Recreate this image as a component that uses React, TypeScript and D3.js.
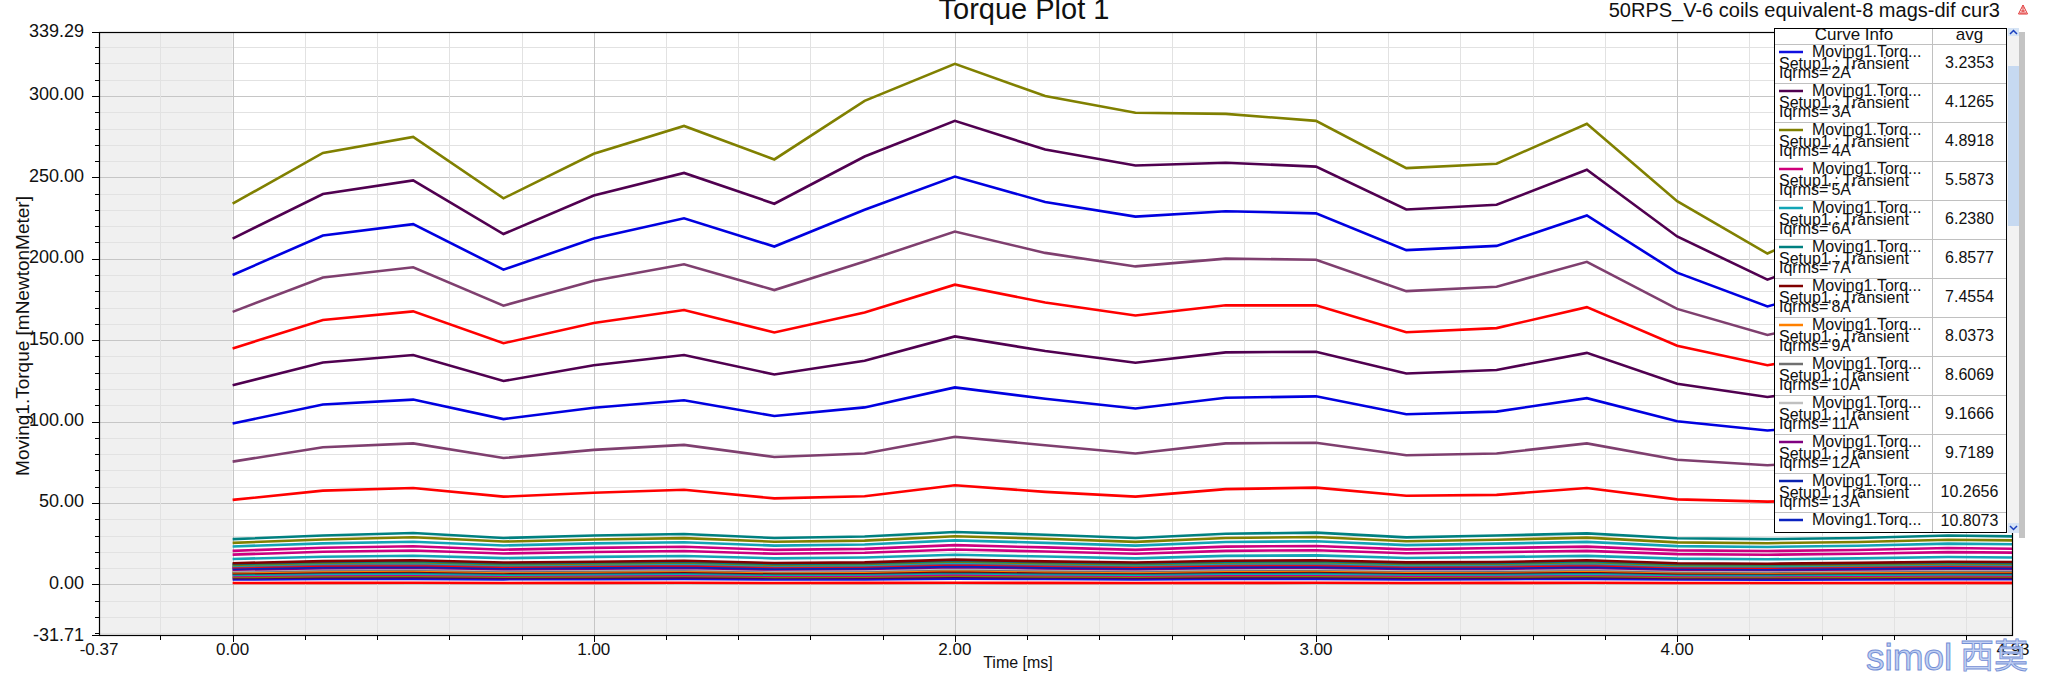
import React from "react";
import * as d3 from "d3";

// ---------- data ----------
const TIME = [0, 0.25, 0.5, 0.75, 1, 1.25, 1.5, 1.75, 2, 2.25, 2.5, 2.75, 3, 3.25, 3.5, 3.75, 4, 4.25, 4.5, 4.75, 4.93];

const X_TICK_LABELS = ["-0.37", "0.00", "1.00", "2.00", "3.00", "4.00", "4.93"];
const X_TICK_VALUES = [-0.37, 0, 1, 2, 3, 4, 4.93];
const Y_TICK_LABELS = ["-31.71", "0.00", "50.00", "100.00", "150.00", "200.00", "250.00", "300.00", "339.29"];
const Y_TICK_VALUES = [-31.71, 0, 50, 100, 150, 200, 250, 300, 339.29];

const CURRENTS = ["2A", "3A", "4A", "5A", "6A", "7A", "8A", "9A", "10A", "11A", "12A", "13A", "14A", "15A", "16A", "17A", "18A", "19A", "20A",
  "25A", "30A", "35A", "40A", "45A", "50A",
  "100A", "150A", "200A", "250A", "300A", "350A", "400A", "450A", "500A", "1A"];

const COLORS = ["#1010e0", "#500050", "#808000", "#d0007a", "#12a5b5", "#008080", "#800000", "#ff8000", "#707070", "#c0c0c0", "#800080", "#0a22b0", "#0a22c0",
  "#ff0000", "#7f3f6f", "#13a3b5", "#808000", "#008080", "#800000",
  "#13a3b5", "#cc0080", "#cc0080", "#13a3b5", "#808000", "#008080",
  "#ff0000", "#7f3f6f", "#0000e0", "#500050", "#ff0000", "#7f3f6f", "#0000e0", "#500050", "#808000", "#ff0000"];

const AVG_LABELS = ["3.2353", "4.1265", "4.8918", "5.5873", "6.2380", "6.8577", "7.4554", "8.0373", "8.6069", "9.1666", "9.7189", "10.2656", "10.8073"];

const S2 = [3.0, 3.3, 3.4, 3.1, 3.2, 3.4, 3.0, 3.1, 3.5, 3.3, 3.1, 3.4, 3.4, 3.1, 3.2, 3.4, 3.0, 2.9, 3.1, 3.2, 3.2];
const S3 = [3.8, 4.3, 4.4, 4.0, 4.1, 4.3, 3.9, 4.0, 4.5, 4.2, 4.0, 4.3, 4.4, 4.0, 4.0, 4.4, 3.8, 3.8, 3.9, 4.1, 4.0];
const S4 = [4.5, 5.0, 5.2, 4.7, 4.9, 5.1, 4.6, 4.7, 5.3, 4.9, 4.7, 5.1, 5.2, 4.7, 4.8, 5.2, 4.5, 4.5, 4.6, 4.9, 4.8];
const S5 = [5.2, 5.8, 5.9, 5.4, 5.6, 5.8, 5.3, 5.4, 6.1, 5.6, 5.4, 5.8, 5.9, 5.4, 5.5, 5.9, 5.2, 5.1, 5.3, 5.6, 5.5];
const S6 = [5.8, 6.4, 6.6, 6.0, 6.2, 6.5, 5.9, 6.1, 6.8, 6.3, 6.0, 6.5, 6.6, 6.1, 6.1, 6.6, 5.8, 5.7, 5.9, 6.2, 6.1];
const S7 = [6.4, 7.1, 7.3, 6.6, 6.9, 7.1, 6.4, 6.7, 7.5, 6.9, 6.6, 7.1, 7.3, 6.7, 6.7, 7.3, 6.4, 6.2, 6.5, 6.9, 6.7];
const S8 = [6.9, 7.7, 7.9, 7.2, 7.5, 7.8, 7.0, 7.2, 8.1, 7.5, 7.2, 7.8, 7.9, 7.2, 7.3, 7.9, 6.9, 6.8, 7.1, 7.5, 7.3];
const S9 = [7.5, 8.3, 8.5, 7.7, 8.0, 8.4, 7.6, 7.8, 8.8, 8.1, 7.7, 8.4, 8.5, 7.8, 7.9, 8.5, 7.5, 7.3, 7.6, 8.0, 7.9];
const S10 = [8.0, 8.9, 9.1, 8.3, 8.6, 9.0, 8.1, 8.4, 9.4, 8.7, 8.3, 9.0, 9.1, 8.4, 8.4, 9.1, 8.0, 7.8, 8.2, 8.6, 8.4];
const S11 = [8.5, 9.4, 9.7, 8.8, 9.2, 9.5, 8.6, 8.9, 10.0, 9.3, 8.8, 9.5, 9.7, 8.9, 9.0, 9.7, 8.5, 8.3, 8.7, 9.2, 9.0];
const S12 = [9.0, 10.0, 10.3, 9.3, 9.7, 10.1, 9.1, 9.4, 10.6, 9.8, 9.3, 10.1, 10.3, 9.4, 9.5, 10.3, 9.0, 8.8, 9.2, 9.7, 9.5];
const S13 = [9.6, 10.6, 10.9, 9.9, 10.3, 10.7, 9.7, 10.0, 11.2, 10.4, 9.9, 10.7, 10.9, 10.0, 10.1, 10.9, 9.6, 9.3, 9.8, 10.3, 10.1];
const S14 = [10.1, 11.1, 11.5, 10.4, 10.8, 11.2, 10.2, 10.5, 11.8, 10.9, 10.4, 11.2, 11.5, 10.5, 10.6, 11.5, 10.1, 9.8, 10.3, 10.8, 10.6];
const S15 = [10.6, 11.7, 12.0, 10.9, 11.4, 11.8, 10.7, 11.0, 12.4, 11.5, 10.9, 11.8, 12.0, 11.0, 11.1, 12.0, 10.6, 10.3, 10.8, 11.4, 11.1];
const S16 = [11.0, 12.2, 12.6, 11.4, 11.9, 12.4, 11.2, 11.5, 12.9, 12.0, 11.4, 12.4, 12.6, 11.5, 11.6, 12.6, 11.0, 10.8, 11.3, 11.9, 11.6];
const S17 = [11.5, 12.8, 13.1, 11.9, 12.4, 12.9, 11.7, 12.0, 13.5, 12.5, 11.9, 12.9, 13.1, 12.0, 12.2, 13.1, 11.5, 11.3, 11.8, 12.4, 12.2];
const S18 = [12.0, 13.3, 13.7, 12.4, 12.9, 13.4, 12.1, 12.5, 14.1, 13.0, 12.4, 13.4, 13.7, 12.5, 12.7, 13.7, 12.0, 11.8, 12.3, 12.9, 12.7];
const S19 = [12.5, 13.8, 14.2, 12.9, 13.4, 14.0, 12.6, 13.0, 14.6, 13.6, 12.9, 14.0, 14.2, 13.0, 13.2, 14.2, 12.5, 12.2, 12.8, 13.4, 13.2];
const S20 = [13.0, 14.3, 14.8, 13.4, 13.9, 14.5, 13.1, 13.5, 15.2, 14.1, 13.4, 14.5, 14.8, 13.5, 13.7, 14.8, 13.0, 12.7, 13.2, 13.9, 13.7];
const S25 = [15.6, 17.0, 17.6, 16.1, 16.9, 17.4, 16.0, 16.5, 18.2, 17.1, 16.0, 17.5, 17.8, 16.2, 16.8, 17.5, 15.8, 15.4, 16.0, 16.8, 16.5];
const S30 = [18.3, 20.0, 20.8, 19.0, 19.9, 20.5, 18.8, 19.4, 21.4, 20.2, 18.8, 20.6, 21.0, 19.1, 19.8, 20.6, 18.6, 18.2, 18.8, 19.8, 19.5];
const S35 = [20.6, 22.5, 23.4, 21.3, 22.4, 23.1, 21.2, 21.8, 24.1, 22.7, 21.2, 23.2, 23.6, 21.5, 22.3, 23.2, 20.9, 20.5, 21.1, 22.3, 21.9];
const S40 = [23.3, 25.2, 26.2, 23.9, 25.2, 25.9, 23.8, 24.5, 27.0, 25.5, 23.8, 26.0, 26.5, 24.1, 25.0, 26.1, 23.5, 23.0, 23.7, 25.0, 24.6];
const S45 = [25.5, 27.6, 28.9, 26.3, 27.6, 28.4, 26.2, 26.9, 29.6, 28.0, 26.1, 28.5, 29.1, 26.5, 27.4, 28.7, 25.8, 25.3, 26.0, 27.4, 27.0];
const S50 = [27.8, 30.0, 31.6, 28.5, 30.0, 30.9, 28.5, 29.4, 32.2, 30.5, 28.5, 31.1, 31.8, 28.9, 30.0, 31.3, 28.3, 27.8, 28.5, 30.0, 29.5];
const S100 = [51.9, 57.6, 59.2, 53.9, 56.3, 58.1, 52.8, 54.1, 60.9, 56.8, 53.9, 58.5, 59.4, 54.4, 55.0, 59.2, 52.2, 50.8, 52.0, 55.0, 54.0];
const S150 = [75.4, 84.2, 86.6, 77.6, 82.6, 85.7, 78.2, 80.4, 90.7, 85.5, 80.4, 86.6, 87.0, 79.3, 80.4, 86.6, 76.5, 73.2, 76.0, 81.0, 79.0];
const S200 = [98.8, 110.5, 113.5, 101.5, 108.5, 113.1, 103.4, 108.7, 121.0, 114.0, 108.0, 114.6, 115.5, 104.5, 106.1, 114.4, 100.2, 94.5, 99.0, 107.0, 104.0];
const S250 = [122.3, 136.3, 140.9, 124.9, 134.6, 140.9, 128.9, 137.4, 152.3, 143.3, 136.1, 142.5, 142.9, 129.5, 131.7, 142.2, 123.2, 115.1, 122.0, 133.0, 128.0];
const S300 = [144.9, 162.4, 167.7, 148.1, 160.6, 168.5, 154.7, 167.0, 184.1, 173.1, 165.2, 171.4, 171.4, 154.9, 157.4, 170.3, 146.6, 134.6, 144.0, 158.0, 152.0];
const S350 = [167.4, 188.5, 194.8, 171.2, 186.5, 196.6, 180.8, 198.3, 216.7, 203.6, 195.3, 200.1, 199.4, 180.1, 182.8, 198.1, 169.2, 153.2, 165.0, 184.0, 176.0];
const S400 = [190.0, 214.3, 221.3, 193.3, 212.4, 224.9, 207.5, 230.1, 250.5, 234.9, 225.9, 229.2, 227.9, 205.3, 207.9, 226.6, 191.5, 170.7, 186.0, 210.0, 200.0];
const S450 = [212.4, 239.8, 248.1, 215.2, 238.9, 252.7, 233.8, 262.8, 284.7, 267.1, 257.3, 259.0, 256.6, 230.3, 233.2, 254.7, 213.7, 187.2, 207.0, 236.0, 224.0];
const S500 = [233.8, 265.0, 274.8, 237.1, 264.5, 281.6, 261.0, 297.0, 319.7, 300.0, 289.7, 289.0, 284.7, 255.7, 258.4, 282.9, 235.4, 203.2, 228.0, 262.0, 248.0];
const S1 = [0.8, 0.9, 1.0, 0.8, 0.9, 1.0, 0.8, 0.9, 1.0, 0.9, 0.8, 0.9, 1.0, 0.8, 0.9, 1.0, 0.8, 0.8, 0.8, 0.9, 0.9];

const VALUES = [S2, S3, S4, S5, S6, S7, S8, S9, S10, S11, S12, S13, S14, S15, S16, S17, S18, S19, S20,
  S25, S30, S35, S40, S45, S50, S100, S150, S200, S250, S300, S350, S400, S450, S500, S1];

// ---------- layout ----------
const W = 2049;
const H = 677;
const L = 99, R = 2013, T = 32, B = 636;
const FONT = "'Liberation Sans', Arial, sans-serif";

export default function App() {
  const x = d3.scaleLinear().domain([-0.37, 4.93]).range([L, R]);
  const y = d3.scaleLinear().domain([-31.71, 339.29]).range([B, T]);
  const line = d3.line<number>().x((_, i) => x(TIME[i])).y((d) => y(d));

  const yMinor = d3.range(-30, 340, 10);
  const yMajor = d3.range(0, 301, 50);
  const xMinor = d3.range(-0.2, 4.9, 0.2).map((v) => Math.round(v * 10) / 10);
  const xMajor = [0, 1, 2, 3, 4];

  const series = CURRENTS.map((c, i) => ({ name: c, color: COLORS[i], values: VALUES[i] }));

  // legend geometry
  const LX = 1774, LX2 = 2007, LDIV = 1932, LT = 28, LB = 533, HEAD = 44, ROW = 39;
  const legendItems = series.slice(0, 13);

  return (
    <svg width={W} height={H} style={{ position: "absolute", left: 0, top: 0, background: "#fff" }} fontFamily={FONT}>
      <defs>
        <clipPath id="plotClip"><rect x={L} y={T} width={R - L} height={B - T} /></clipPath>
        <clipPath id="legClip"><rect x={LX} y={LT} width={LX2 - LX} height={LB - LT} /></clipPath>
      </defs>
      <rect x={0} y={0} width={W} height={H} fill="#fff" />

      {/* gray out-of-data regions */}
      <rect x={L} y={T} width={x(0) - L} height={B - T} fill="#f0f0f0" />
      <rect x={L} y={y(0)} width={R - L} height={B - y(0)} fill="#f0f0f0" />

      {/* grid */}
      {yMinor.map((v) => (
        <line key={"gy" + v} x1={L} x2={R} y1={Math.round(y(v)) + 0.5} y2={Math.round(y(v)) + 0.5}
          stroke={yMajor.includes(v) ? "#c6c6c6" : "#e2e2e2"} strokeWidth={1} />
      ))}
      {xMinor.map((v) => (
        <line key={"gx" + v} y1={T} y2={B} x1={Math.round(x(v)) + 0.5} x2={Math.round(x(v)) + 0.5}
          stroke={xMajor.includes(v) ? "#c6c6c6" : "#e2e2e2"} strokeWidth={1} />
      ))}

      {/* curves */}
      <g clipPath="url(#plotClip)">
        {series.map((s) => (
          <path key={s.name} d={line(s.values) || ""} fill="none" stroke={s.color} strokeWidth={2.6}
            strokeLinejoin="miter" />
        ))}
      </g>

      {/* frame */}
      <rect x={L + 0.5} y={T + 0.5} width={R - L - 1} height={B - T - 1} fill="none" stroke="#000" strokeWidth={1.2} />

      {/* y ticks */}
      {yMinor.map((v) => (
        <line key={"ty" + v} x1={L - (yMajor.includes(v) ? 7 : 4)} x2={L} y1={Math.round(y(v)) + 0.5} y2={Math.round(y(v)) + 0.5} stroke="#000" />
      ))}
      <line x1={L - 7} x2={L} y1={T + 0.5} y2={T + 0.5} stroke="#000" />
      <line x1={L - 7} x2={L} y1={B - 0.5} y2={B - 0.5} stroke="#000" />
      {Y_TICK_VALUES.map((v, i) => (
        <text key={"yl" + i} x={84} y={y(v) + 4.5} textAnchor="end" fontSize={18} fill="#111">{Y_TICK_LABELS[i]}</text>
      ))}

      {/* x ticks */}
      {xMinor.map((v) => (
        <line key={"tx" + v} y1={B} y2={B + (xMajor.includes(v) ? 6 : 4)} x1={Math.round(x(v)) + 0.5} x2={Math.round(x(v)) + 0.5} stroke="#000" />
      ))}
      {X_TICK_VALUES.map((v, i) => (
        <text key={"xl" + i} x={x(v)} y={655} textAnchor="middle" fontSize={17} fill="#111">{X_TICK_LABELS[i]}</text>
      ))}

      {/* axis titles */}
      <text x={1018} y={668} textAnchor="middle" fontSize={16} fill="#111">Time [ms]</text>
      <text transform={`translate(29,336) rotate(-90)`} textAnchor="middle" fontSize={19} fill="#111">Moving1.Torque [mNewtonMeter]</text>

      {/* titles */}
      <text x={1024} y={19} textAnchor="middle" fontSize={29} fill="#111">Torque Plot 1</text>
      <text x={2000} y={17} textAnchor="end" fontSize={20} fill="#111">50RPS_V-6 coils equivalent-8 mags-dif cur3</text>
      <g stroke="#e03030" strokeWidth={1} fill="none">
        <path d="M2023,5 L2018.5,14 L2027.5,14 Z" />
        <path d="M2021,11 L2025,11 M2020,13 L2026,13 M2023,7 L2023,12" />
      </g>

      {/* legend */}
      <rect x={2019} y={32} width={6} height={506} fill="#c4c4c4" />
      <rect x={LX} y={LT} width={LX2 - LX} height={LB - LT} fill="#fff" />
      <g clipPath="url(#legClip)">
        {legendItems.map((s, i) => {
          const rt = HEAD + i * ROW;
          const partial = rt + ROW > LB;
          return (
            <g key={"lg" + s.name}>
              <line x1={1779} x2={1803} y1={rt + 8} y2={rt + 8} stroke={s.color} strokeWidth={2.5} />
              <text x={1812} y={rt + 13} fontSize={16} fill="#111">Moving1.Torq...</text>
              {!partial && <text x={1779} y={rt + 24.5} fontSize={16} fill="#111">Setup1 : Transient</text>}
              {!partial && <text x={1779} y={rt + 33.5} fontSize={16} fill="#111">{`Iqrms='${s.name}'`}</text>}
              <text x={1969.5} y={partial ? rt + 14 : rt + 23.5} textAnchor="middle" fontSize={16} fill="#111">{AVG_LABELS[i]}</text>
              {!partial && <line x1={LX} x2={LX2} y1={rt + ROW + 0.5} y2={rt + ROW + 0.5} stroke="#c0c0c0" />}
            </g>
          );
        })}
      </g>
      <text x={1854} y={40} textAnchor="middle" fontSize={17} fill="#111">Curve Info</text>
      <text x={1969.5} y={40} textAnchor="middle" fontSize={17} fill="#111">avg</text>
      <line x1={LX} x2={LX2} y1={HEAD + 0.5} y2={HEAD + 0.5} stroke="#c0c0c0" />
      <line x1={LDIV + 0.5} x2={LDIV + 0.5} y1={LT} y2={LB} stroke="#c0c0c0" />
      <rect x={LX + 0.5} y={LT + 0.5} width={LX2 - LX - 1} height={LB - LT - 1} fill="none" stroke="#000" />

      {/* scrollbar */}
      <rect x={2007} y={28} width={12} height={505} fill="#f2f2f2" />
      <rect x={2008} y={28} width={11} height={8} fill="#d6e4f5" />
      <path d="M2010,34 L2013.5,30.5 L2017,34" fill="none" stroke="#1a3fbf" strokeWidth={1.5} />
      <rect x={2008} y={66} width={11} height={160} fill="#c6d9f1" />
      <rect x={2008} y={523} width={11} height={10} fill="#d6e4f5" />
      <path d="M2010,526 L2013.5,529.5 L2017,526" fill="none" stroke="#1a3fbf" strokeWidth={1.5} />

      {/* watermark */}
      <text x={1866} y={670} fontSize={37} fill="#c3d1f2" stroke="#7590d6" strokeWidth={1}>simol</text>
      <text x={1960} y={668} fontSize={34} fill="#c3d1f2" stroke="#7590d6" strokeWidth={0.8} fontFamily="'Noto Sans CJK SC', sans-serif">西莫</text>
    </svg>
  );
}
